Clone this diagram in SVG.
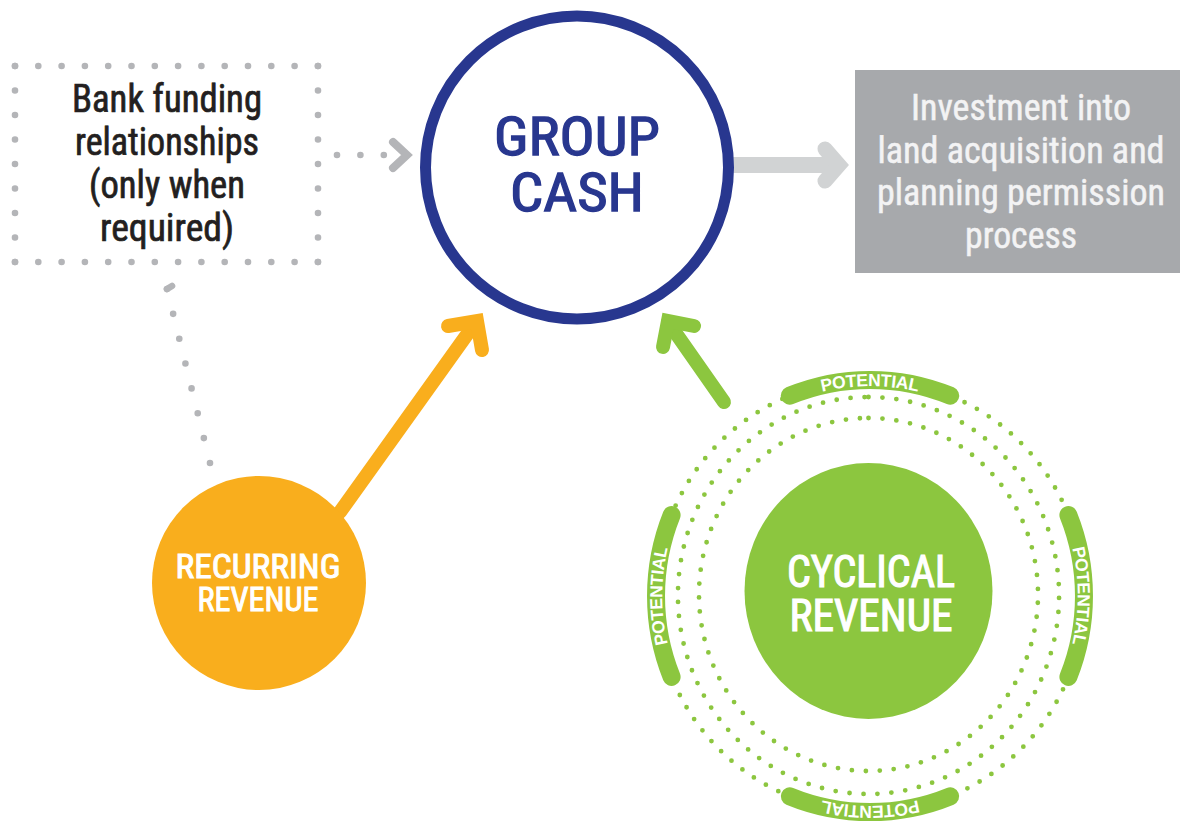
<svg xmlns="http://www.w3.org/2000/svg" width="1180" height="827" viewBox="0 0 1180 827">
<style>
.cond{font-family:"Liberation Sans Narrow","Roboto Condensed","Roboto","Liberation Sans",Arial,sans-serif;text-anchor:middle;font-weight:normal}
.pot{font-family:"Liberation Sans",Arial,sans-serif;font-weight:bold;font-size:17.5px;fill:#fff;text-anchor:middle}
.gdot{fill:none;stroke:#b4b5b8;stroke-width:6.6;stroke-linecap:round}
.ring{fill:none;stroke:#8cc63f;stroke-width:4.8;stroke-linecap:round;stroke-dasharray:0 14}
.band{fill:none;stroke:#8cc63f;stroke-width:18;stroke-linecap:round}
</style>
<rect width="1180" height="827" fill="#ffffff"/>
<g id="connectors">
  <path class="gdot" d="M337 155 H384" stroke-dasharray="0 23.4"/>
  <path d="M393 142 L407 155 L393 168" fill="none" stroke="#b4b5b8" stroke-width="8" stroke-linecap="round" stroke-linejoin="miter"/>
  <path d="M172 286 L167 289" class="gdot"/>
  <path class="gdot" d="M167 289 L210 463" stroke-dasharray="0 25.6"/>
  <path d="M725 165 H836" fill="none" stroke="#d1d3d4" stroke-width="16"/>
  <path d="M825 149 L839 165 L825 181" fill="none" stroke="#d1d3d4" stroke-width="15" stroke-linecap="round" stroke-linejoin="miter"/>
  <path d="M340 512 L476 322" fill="none" stroke="#f9ae1d" stroke-width="14" stroke-linecap="round"/>
  <path d="M448 326 L477 321 L482 350" fill="none" stroke="#f9ae1d" stroke-width="14" stroke-linecap="round" stroke-linejoin="miter"/>
  <path d="M724 402 L668 322" fill="none" stroke="#8cc63f" stroke-width="14" stroke-linecap="round"/>
  <path d="M663 347 L668 321 L694 326" fill="none" stroke="#8cc63f" stroke-width="14" stroke-linecap="round" stroke-linejoin="miter"/>
</g>
<g id="bank-funding">
  <path class="gdot" d="M15 66 H318.1" stroke-dasharray="0 23.3"/>
  <path class="gdot" d="M15 262 H318.1" stroke-dasharray="0 23.3"/>
  <path class="gdot" d="M15 66 V262.1" stroke-dasharray="0 24.5"/>
  <path class="gdot" d="M318 66 V262.1" stroke-dasharray="0 24.5"/>
  <g class="cond" font-size="38" fill="#231f20" stroke="#231f20" stroke-width="0.7">
    <text x="167" y="112" textLength="190" lengthAdjust="spacingAndGlyphs">Bank funding</text>
    <text x="167" y="155" textLength="184" lengthAdjust="spacingAndGlyphs">relationships</text>
    <text x="167" y="198" textLength="156" lengthAdjust="spacingAndGlyphs">(only when</text>
    <text x="167" y="241" textLength="134" lengthAdjust="spacingAndGlyphs">required)</text>
  </g>
</g>
<g id="group-cash">
  <circle cx="577" cy="167.5" r="151.5" fill="#ffffff" stroke="#28378f" stroke-width="11"/>
  <g class="cond" font-size="53" fill="#28378f" stroke="#28378f" stroke-width="1.3">
    <text x="577" y="155" textLength="166" lengthAdjust="spacingAndGlyphs">GROUP</text>
    <text x="577" y="211" textLength="134" lengthAdjust="spacingAndGlyphs">CASH</text>
  </g>
</g>
<g id="investment">
  <rect x="855" y="70" width="325" height="203" fill="#a7a9ac"/>
  <g class="cond" font-size="37" fill="#f3f3f4" stroke="#f3f3f4" stroke-width="0.5">
    <text x="1021" y="120" textLength="220" lengthAdjust="spacingAndGlyphs">Investment into</text>
    <text x="1021" y="162.5" textLength="287" lengthAdjust="spacingAndGlyphs">land acquisition and</text>
    <text x="1021" y="205" textLength="288" lengthAdjust="spacingAndGlyphs">planning permission</text>
    <text x="1021" y="247.5" textLength="112" lengthAdjust="spacingAndGlyphs">process</text>
  </g>
</g>
<g id="recurring-revenue">
  <circle cx="259" cy="583" r="107" fill="#f9ae1d"/>
  <g class="cond" font-size="34" fill="#ffffff" stroke="#ffffff" stroke-width="1">
    <text x="258" y="578" textLength="165" lengthAdjust="spacingAndGlyphs">RECURRING</text>
    <text x="258" y="611" textLength="121" lengthAdjust="spacingAndGlyphs">REVENUE</text>
  </g>
</g>
<g id="cyclical-revenue">
  <path class="ring" d="M868.5 418 A169.5 176.5 0 1 1 868.5 771 A169.5 176.5 0 1 1 868.5 418"/>
  <path class="ring" d="M868.5 397 A190.5 198.5 0 1 1 868.5 794 A190.5 198.5 0 1 1 868.5 397"/>
  <path class="ring" d="M870 380 A214 216 0 1 1 870 812 A214 216 0 1 1 870 380"/>
  <path id="arcTop" class="band" d="M789.8 395.7 A214 216 0 0 1 950.2 395.7"/>
  <path id="arcRight" class="band" d="M1068.4 515.1 A214 216 0 0 1 1068.4 676.9"/>
  <path id="arcBottom" class="band" d="M950.2 796.3 A214 216 0 0 1 789.8 796.3"/>
  <path id="arcLeft" class="band" d="M671.6 676.9 A214 216 0 0 1 671.6 515.1"/>
  <text class="pot" dy="6.2"><textPath href="#arcTop" startOffset="50%">POTENTIAL</textPath></text>
  <text class="pot" dy="6.2"><textPath href="#arcRight" startOffset="50%">POTENTIAL</textPath></text>
  <text class="pot" dy="6.2"><textPath href="#arcBottom" startOffset="50%">POTENTIAL</textPath></text>
  <text class="pot" dy="6.2"><textPath href="#arcLeft" startOffset="50%">POTENTIAL</textPath></text>
  <ellipse cx="868.5" cy="591" rx="124" ry="128" fill="#8cc63f"/>
  <g class="cond" font-size="44" fill="#ffffff" stroke="#ffffff" stroke-width="1.2">
    <text x="871" y="587" textLength="168" lengthAdjust="spacingAndGlyphs">CYCLICAL</text>
    <text x="871" y="631" textLength="163" lengthAdjust="spacingAndGlyphs">REVENUE</text>
  </g>
</g>
</svg>
